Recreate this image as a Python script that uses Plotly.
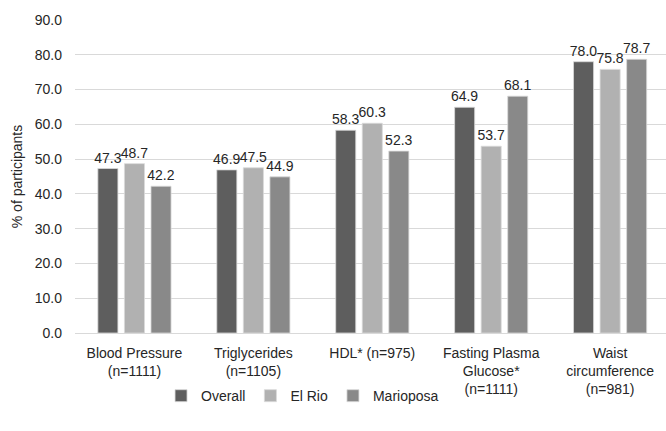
import plotly.graph_objects as go

categories = ["Blood Pressure<br>(n=1111)", "Triglycerides<br>(n=1105)", "HDL* (n=975)",
              "Fasting Plasma<br>Glucose*<br>(n=1111)", "Waist<br>circumference<br>(n=981)"]
overall = [47.3, 46.9, 58.3, 64.9, 78.0]
el_rio = [48.7, 47.5, 60.3, 53.7, 75.8]
marioposa = [42.2, 44.9, 52.3, 68.1, 78.7]
series_names = ["Overall", "El Rio", "Marioposa"]
colors = ["#5e5e5e", "#b1b1b1", "#898989"]
tick_vals = [0, 10, 20, 30, 40, 50, 60, 70, 80, 90]

FONT = "Liberation Sans"
fig = go.Figure()
for name, vals, col in zip(series_names, [overall, el_rio, marioposa], colors):
    fig.add_trace(go.Bar(
        x=categories, y=vals, name=name,
        marker=dict(color=col, line=dict(color="#d9d9d9", width=0.8)),
        text=[f"{v:.1f}" for v in vals], textposition="outside",
        textfont=dict(size=14, color="#262626", family=FONT),
        constraintext="none", cliponaxis=False,
    ))

fig.update_layout(
    width=666, height=431,
    margin=dict(l=75, r=0, t=20, b=98, autoexpand=False),
    paper_bgcolor="white", plot_bgcolor="white",
    barmode="group", bargap=0.33, bargroupgap=0.245,
    font=dict(family=FONT, size=14, color="#262626"),
    showlegend=True,
    legend=dict(orientation="h", x=0.385, xanchor="center", xref="paper",
                y=0.081, yanchor="middle", yref="container",
                font=dict(size=14, family=FONT), itemwidth=30, traceorder="normal"),
    xaxis=dict(showgrid=False, showline=True, linecolor="#d9d9d9", linewidth=1,
               range=[-0.5, 4.47],
               tickfont=dict(size=14, family=FONT), ticks="", ticklabelstandoff=7,
               automargin=False),
    yaxis=dict(range=[0, 90], tickvals=tick_vals, tickformat=".1f",
               showgrid=True, gridcolor="#d9d9d9", gridwidth=1, zeroline=False,
               tickfont=dict(size=14, family=FONT), ticks="", ticklabelstandoff=12,
               automargin=False,
               title=dict(text="% of participants", font=dict(size=14, family=FONT), standoff=8)),
)

fig.write_html("out.html", config={"displayModeBar": False},
               post_script="document.body.style.margin='0';")
